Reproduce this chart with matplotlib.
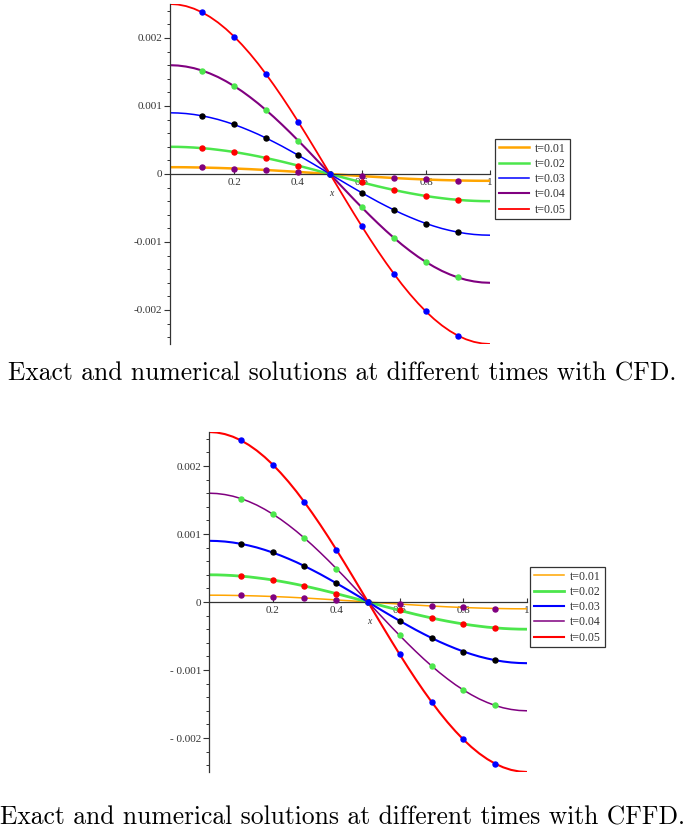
import matplotlib
matplotlib.use("Agg")
import matplotlib.pyplot as plt
from matplotlib.ticker import MultipleLocator, FixedLocator, FixedFormatter

# ---- data ----
x_line = [0.000, 0.025, 0.050, 0.075, 0.100, 0.125, 0.150, 0.175, 0.200, 0.225,
          0.250, 0.275, 0.300, 0.325, 0.350, 0.375, 0.400, 0.425, 0.450, 0.475,
          0.500, 0.525, 0.550, 0.575, 0.600, 0.625, 0.650, 0.675, 0.700, 0.725,
          0.750, 0.775, 0.800, 0.825, 0.850, 0.875, 0.900, 0.925, 0.950, 0.975, 1.000]
u_t001 = [0.000100, 0.000100, 0.000099, 0.000097, 0.000095, 0.000092, 0.000089, 0.000085, 0.000081, 0.000076,
          0.000071, 0.000065, 0.000059, 0.000052, 0.000045, 0.000038, 0.000031, 0.000023, 0.000016, 0.000008,
          0.0,
          -0.000008, -0.000016, -0.000023, -0.000031, -0.000038, -0.000045, -0.000052, -0.000059, -0.000065,
          -0.000071, -0.000076, -0.000081, -0.000085, -0.000089, -0.000092, -0.000095, -0.000097, -0.000099,
          -0.000100, -0.000100]
u_t002 = [0.000400, 0.000399, 0.000395, 0.000389, 0.000380, 0.000370, 0.000356, 0.000341, 0.000324, 0.000304,
          0.000283, 0.000260, 0.000235, 0.000209, 0.000182, 0.000153, 0.000124, 0.000093, 0.000063, 0.000031,
          0.0,
          -0.000031, -0.000063, -0.000093, -0.000124, -0.000153, -0.000182, -0.000209, -0.000235, -0.000260,
          -0.000283, -0.000304, -0.000324, -0.000341, -0.000356, -0.000370, -0.000380, -0.000389, -0.000395,
          -0.000399, -0.000400]
u_t003 = [0.000900, 0.000897, 0.000889, 0.000875, 0.000856, 0.000831, 0.000802, 0.000767, 0.000728, 0.000684,
          0.000636, 0.000585, 0.000529, 0.000470, 0.000409, 0.000344, 0.000278, 0.000210, 0.000141, 0.000071,
          0.0,
          -0.000071, -0.000141, -0.000210, -0.000278, -0.000344, -0.000409, -0.000470, -0.000529, -0.000585,
          -0.000636, -0.000684, -0.000728, -0.000767, -0.000802, -0.000831, -0.000856, -0.000875, -0.000889,
          -0.000897, -0.000900]
u_t004 = [0.001600, 0.001595, 0.001580, 0.001556, 0.001522, 0.001478, 0.001426, 0.001364, 0.001294, 0.001217,
          0.001131, 0.001039, 0.000940, 0.000836, 0.000726, 0.000612, 0.000494, 0.000374, 0.000250, 0.000126,
          0.0,
          -0.000126, -0.000250, -0.000374, -0.000494, -0.000612, -0.000726, -0.000836, -0.000940, -0.001039,
          -0.001131, -0.001217, -0.001294, -0.001364, -0.001426, -0.001478, -0.001522, -0.001556, -0.001580,
          -0.001595, -0.001600]
u_t005 = [0.002500, 0.002492, 0.002469, 0.002431, 0.002378, 0.002310, 0.002228, 0.002132, 0.002023, 0.001901,
          0.001768, 0.001624, 0.001469, 0.001306, 0.001135, 0.000957, 0.000773, 0.000584, 0.000391, 0.000196,
          0.0,
          -0.000196, -0.000391, -0.000584, -0.000773, -0.000957, -0.001135, -0.001306, -0.001469, -0.001624,
          -0.001768, -0.001901, -0.002023, -0.002132, -0.002228, -0.002310, -0.002378, -0.002431, -0.002469,
          -0.002492, -0.002500]

x_pts = [0.1, 0.2, 0.3, 0.4, 0.5, 0.6, 0.7, 0.8, 0.9]
n_t001 = [0.00010, 0.00008, 0.00006, 0.00003, 0.0, -0.00003, -0.00006, -0.00008, -0.00010]
n_t002 = [0.00038, 0.00032, 0.00024, 0.00012, 0.0, -0.00012, -0.00024, -0.00032, -0.00038]
n_t003 = [0.00086, 0.00073, 0.00053, 0.00028, 0.0, -0.00028, -0.00053, -0.00073, -0.00086]
n_t004 = [0.00152, 0.00129, 0.00094, 0.00049, 0.0, -0.00049, -0.00094, -0.00129, -0.00152]
n_t005 = [0.00238, 0.00202, 0.00147, 0.00077, 0.0, -0.00077, -0.00147, -0.00202, -0.00238]

labels = ["t=0.01", "t=0.02", "t=0.03", "t=0.04", "t=0.05"]
line_colors = ["#FFA500", "#4CE64C", "#0000FF", "#800080", "#FF0000"]
mark_colors = ["#800080", "#FF0000", "#000000", "#4CE64C", "#0000FF"]
xticks = [0.2, 0.4, 0.6, 0.8, 1.0]
xticklabels = ["0.2", "0.4", "0.6", "0.8", "1"]
yticks = [-0.002, -0.001, 0.0, 0.001, 0.002]
yticklabels_top = ["-0.002", "-0.001", "0", "0.001", "0.002"]
yticklabels_bot = ["- 0.002", "- 0.001", "0", "0.001", "0.002"]
captions = ["Exact and numerical solutions at different times with CFD.",
            "Exact and numerical solutions at different times with CFFD."]

curves = [u_t001, u_t002, u_t003, u_t004, u_t005]
points = [n_t001, n_t002, n_t003, n_t004, n_t005]

W, H = 685, 836
fig = plt.figure(figsize=(W / 100, H / 100), dpi=100)
fig.patch.set_facecolor("white")


def make_panel(px_left, px_right, px_top, px_bottom, ytl, leg_xy, lws, cap_y, caption):
    ax = fig.add_axes([px_left / W, 1 - px_bottom / H, (px_right - px_left) / W,
                       (px_bottom - px_top) / H])
    handles = []
    for yv, c, lab, lw in zip(curves, line_colors, labels, lws):
        h, = ax.plot(x_line, yv, color=c, lw=lw, label=lab, zorder=2,
                     solid_joinstyle="round")
        handles.append(h)
    for yv, mc in zip(points, mark_colors):
        ax.plot(x_pts, yv, ls="none", marker="o", ms=3.6, color=mc, mec=mc, zorder=3)
    ax.set_xlim(0, 1)
    ax.set_ylim(-0.0025, 0.0025)
    ax.spines["top"].set_visible(False)
    ax.spines["right"].set_visible(False)
    ax.spines["bottom"].set_position(("data", 0))
    ax.spines["left"].set_position(("data", 0))
    for s in ("bottom", "left"):
        ax.spines[s].set_linewidth(0.9)
        ax.spines[s].set_color("#333333")
    ax.xaxis.set_major_locator(FixedLocator(xticks))
    ax.xaxis.set_major_formatter(FixedFormatter(xticklabels))
    ax.yaxis.set_major_locator(FixedLocator(yticks))
    ax.yaxis.set_major_formatter(FixedFormatter(ytl))
    ax.yaxis.set_minor_locator(MultipleLocator(0.0002))
    ax.xaxis.set_minor_locator(MultipleLocator(0.05))
    ax.tick_params(axis="y", which="major", direction="out", length=4, width=0.8,
                   color="#333333", pad=1.5)
    ax.tick_params(axis="y", which="minor", direction="out", length=2.5, width=0.7,
                   color="#333333")
    ax.tick_params(axis="x", which="major", direction="in", length=3, width=0.8,
                   color="#333333", pad=3)
    ax.tick_params(axis="x", which="minor", length=0)
    for lab in ax.get_xticklabels() + ax.get_yticklabels():
        lab.set_fontfamily("Liberation Serif")
        lab.set_fontsize(8)
        lab.set_color("#333333")
    ax.text(0.505, -0.00028, "x", fontsize=7, style="italic", family="Liberation Serif",
            ha="center", va="center", color="#333333")
    leg = fig.legend(handles=handles, labels=labels, loc="upper left",
                     bbox_to_anchor=(leg_xy[0] / W, 1 - leg_xy[1] / H),
                     bbox_transform=fig.transFigure, borderaxespad=0,
                     prop=dict(family="Liberation Serif", size=8.5),
                     handlelength=2.6, handletextpad=0.5, labelspacing=0.28,
                     borderpad=0.3, fancybox=False, framealpha=1,
                     edgecolor="#333333")
    leg.get_frame().set_linewidth(0.9)
    for t in leg.get_texts():
        t.set_color("#333333")
    fig.text(0.5, 1 - cap_y / H, caption, family="cmr10", fontsize=18.4,
             ha="center", va="center", color="black")
    return ax


make_panel(170, 490, 4, 344, yticklabels_top, (495, 139), [1.8, 1.8, 1.1, 1.5, 1.3],
           374, captions[0])
make_panel(209, 527, 432, 772, yticklabels_bot, (530, 567), [1.1, 2.0, 1.5, 1.1, 1.5],
           818, captions[1])

fig.savefig("out.png", dpi=100, facecolor="white")
